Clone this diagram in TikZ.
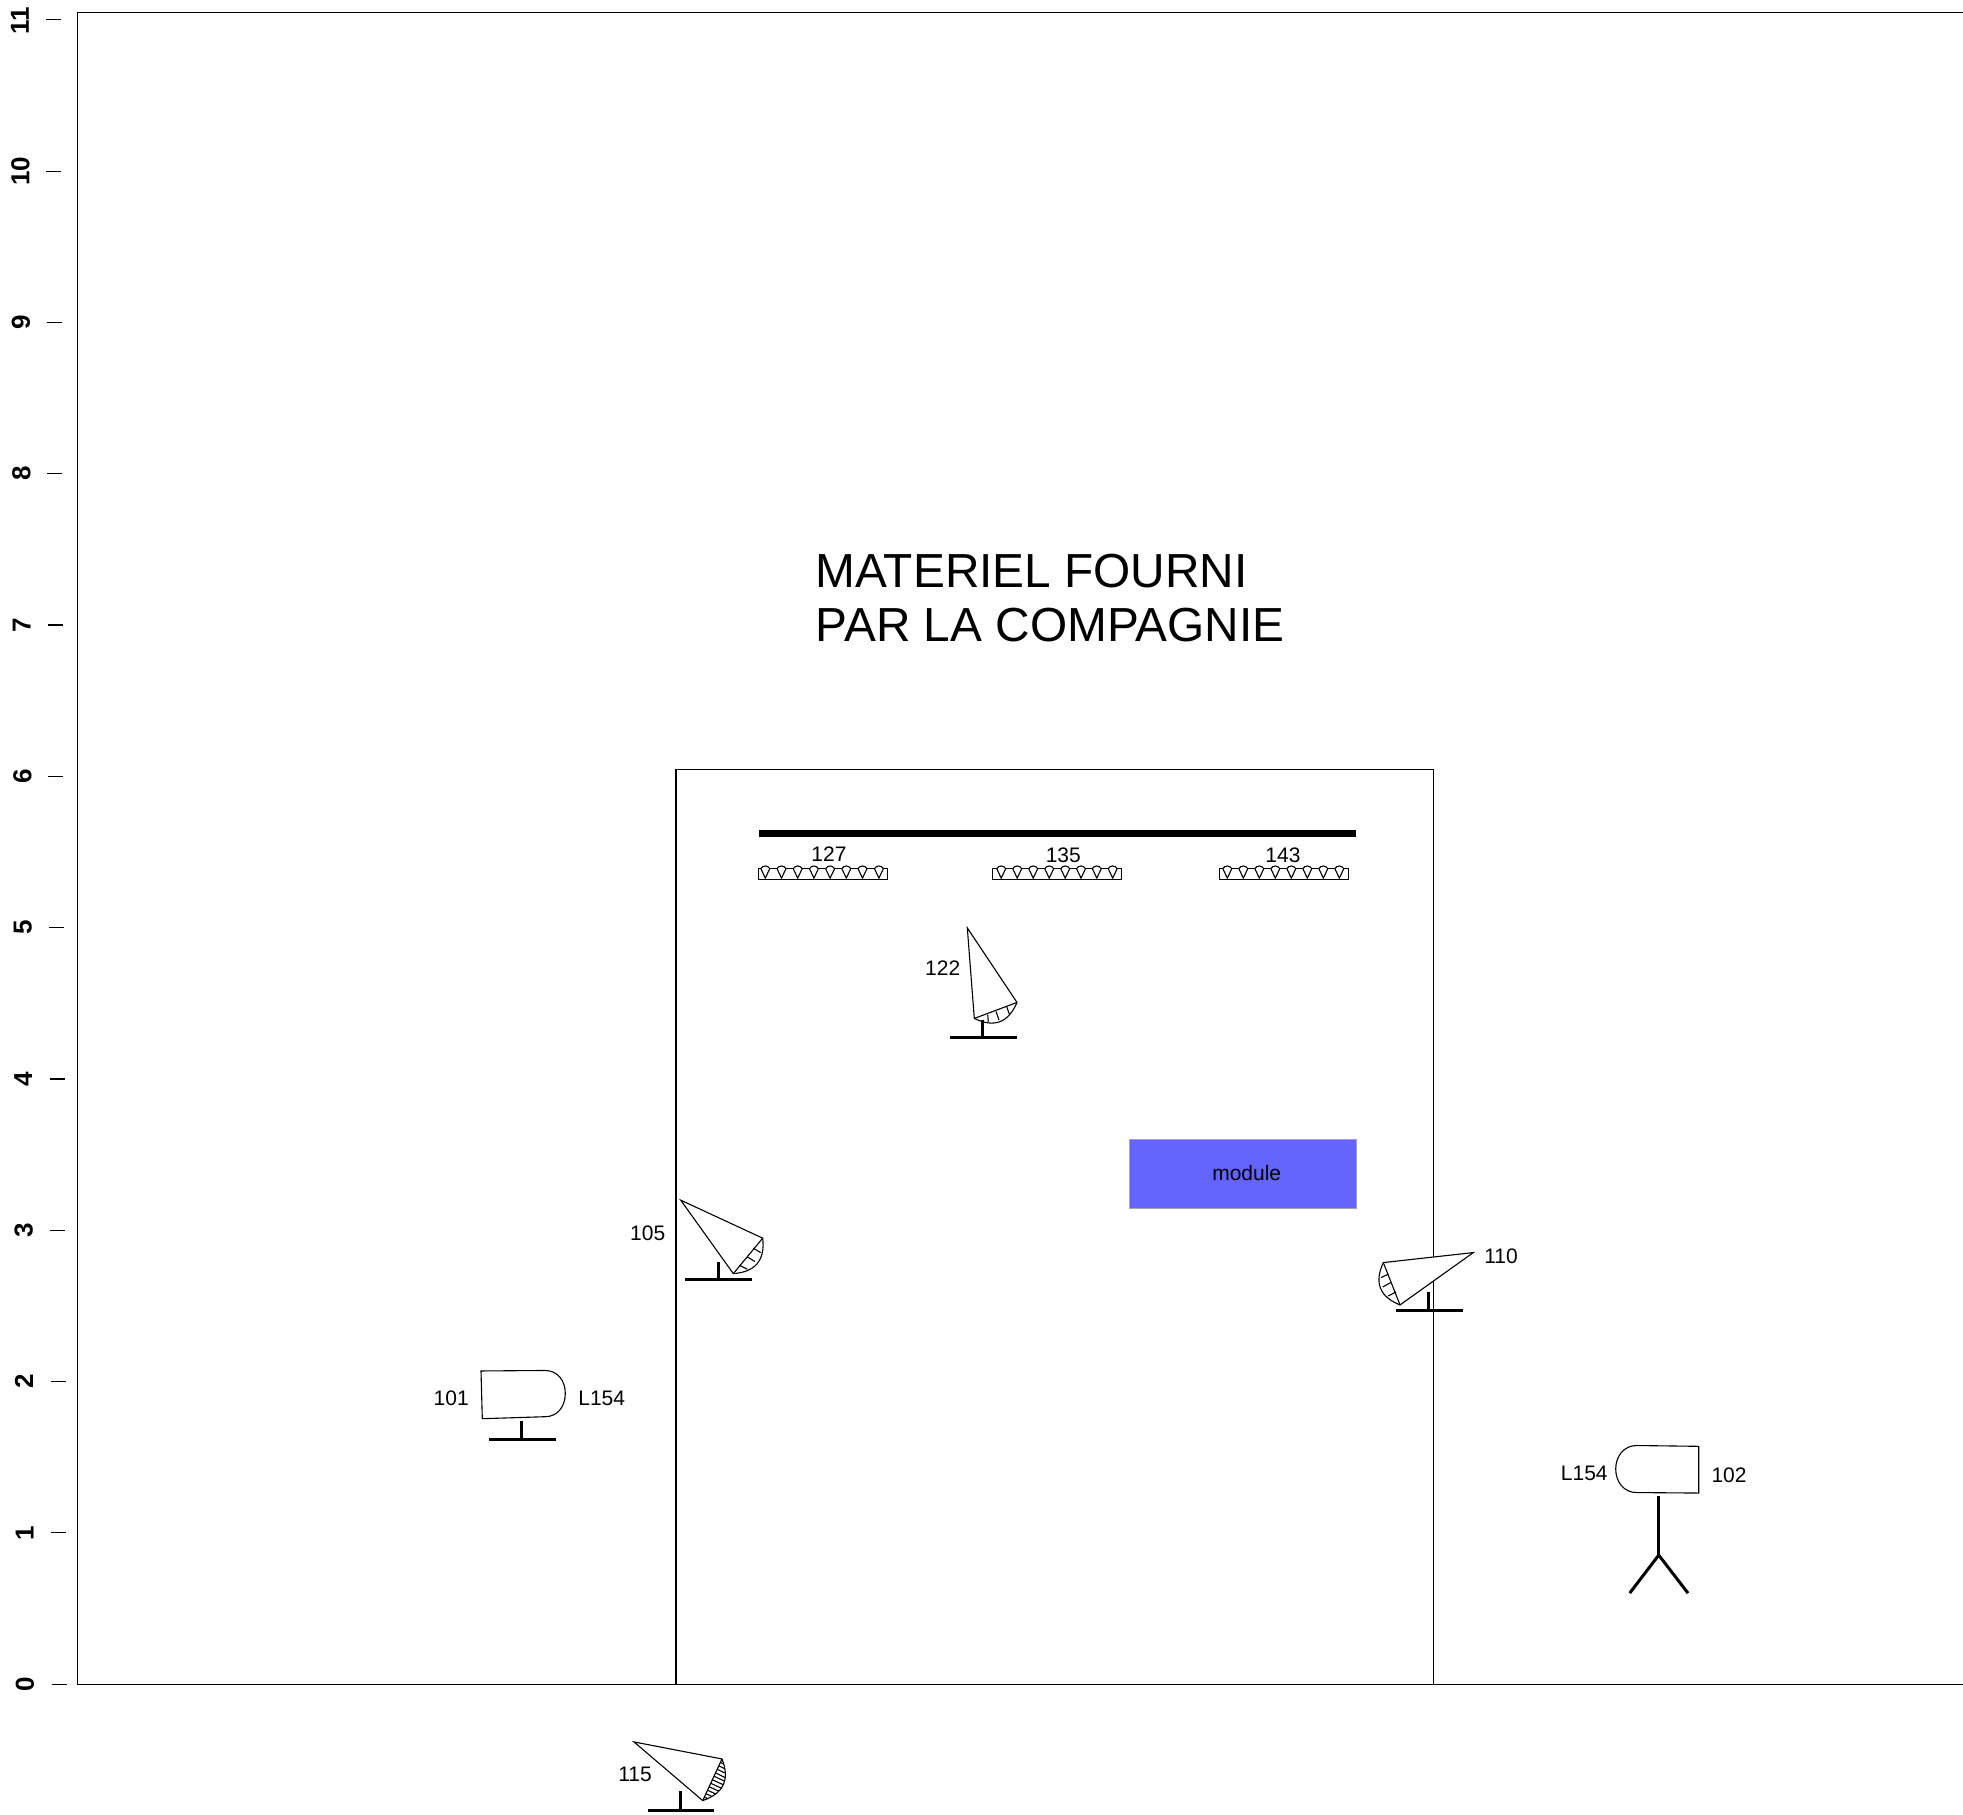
\documentclass[tikz,border=0pt]{standalone}
\usepackage{fontspec}
\setmainfont{Liberation Sans}
\newlength{\du}
\setlength{\du}{0.5pt}
\definecolor{dialinecolor}{rgb}{0.392157, 0.392157, 1.000000}
\tikzset{
  thinline/.style={line width=1.100000\du,black,line join=miter},
  lampbody/.style={thinline,fill=white},
  standline/.style={line width=3.000000\du,black},
  barline/.style={line width=7.000000\du,black},
  smalltext/.style={inner sep=0pt,font=\fontsize{10.5}{12}\selectfont},
  ticktext/.style={inner sep=0pt,rotate=90,font=\fontsize{13}{15}\selectfont\bfseries},
  bigtext/.style={inner sep=0pt,anchor=base west,font=\fontsize{23.9}{28}\selectfont},
}
\begin{document}
\begin{tikzpicture}
\pgftransformxscale{1.000000}
\pgftransformyscale{-1.000700}
\useasboundingbox (0.000000\du,0.000000\du) rectangle (1963.000000\du,1812.730000\du);
% frame
\draw[thinline] (1963.000000\du,12.500000\du)--(77.400000\du,12.500000\du)--(77.400000\du,1683.000000\du)--(1963.000000\du,1683.000000\du);
\draw[thinline] (676.000000\du,1683.000000\du)--(676.000000\du,769.000000\du)--(1433.500000\du,769.000000\du)--(1433.500000\du,1683.000000\du);
% ticks
\draw[thinline] (51.700000\du,1683.000000\du)--(66.700000\du,1683.000000\du);
\draw[thinline] (51.200000\du,1531.800000\du)--(66.200000\du,1531.800000\du);
\draw[thinline] (50.600000\du,1380.600000\du)--(65.600000\du,1380.600000\du);
\draw[thinline] (50.000000\du,1229.400000\du)--(65.000000\du,1229.400000\du);
\draw[thinline] (49.500000\du,1078.200000\du)--(64.500000\du,1078.200000\du);
\draw[thinline] (49.000000\du,927.000000\du)--(64.000000\du,927.000000\du);
\draw[thinline] (48.400000\du,775.800000\du)--(63.400000\du,775.800000\du);
\draw[thinline] (47.800000\du,624.600000\du)--(62.800000\du,624.600000\du);
\draw[thinline] (47.300000\du,473.400000\du)--(62.300000\du,473.400000\du);
\draw[thinline] (46.700000\du,322.200000\du)--(61.700000\du,322.200000\du);
\draw[thinline] (46.200000\du,171.000000\du)--(61.200000\du,171.000000\du);
\draw[thinline] (46.000000\du,19.800000\du)--(61.000000\du,19.800000\du);
\node[ticktext] (tick0) at (25.000000\du,1683.000000\du){0};
\node[ticktext] (tick1) at (24.600000\du,1531.800000\du){1};
\node[ticktext] (tick2) at (24.100000\du,1380.600000\du){2};
\node[ticktext] (tick3) at (23.600000\du,1229.400000\du){3};
\node[ticktext] (tick4) at (23.200000\du,1078.200000\du){4};
\node[ticktext] (tick5) at (22.800000\du,927.000000\du){5};
\node[ticktext] (tick6) at (22.300000\du,775.800000\du){6};
\node[ticktext] (tick7) at (21.800000\du,624.600000\du){7};
\node[ticktext] (tick8) at (21.400000\du,473.400000\du){8};
\node[ticktext] (tick9) at (20.900000\du,322.200000\du){9};
\node[ticktext] (tick10) at (20.500000\du,171.000000\du){10};
\node[ticktext] (tick11) at (20.000000\du,21.000000\du){11};
% title
\node[bigtext] (titleone) at (815.400000\du,586.700000\du){MATERIEL FOURNI};
\node[bigtext] (titletwo) at (815.400000\du,640.700000\du){PAR LA COMPAGNIE};
% bar
\draw[barline] (758.800000\du,832.500000\du)--(1356.300000\du,832.500000\du);
% strip 127
\node[smalltext] (strip127) at (829.000000\du,854.000000\du){127};
\draw[thinline] (758.400000\du,868.000000\du)--(758.400000\du,879.000000\du)--(887.800000\du,879.000000\du)--(887.800000\du,868.000000\du)--cycle;
\draw[lampbody] (760.800000\du,868.000000\du)--(765.300000\du,877.500000\du)--(769.800000\du,868.000000\du) .. controls (767.500000\du,864.500000\du) and (763.100000\du,864.500000\du) .. (760.800000\du,868.000000\du);
\draw[lampbody] (777.000000\du,868.000000\du)--(781.500000\du,877.500000\du)--(786.000000\du,868.000000\du) .. controls (783.700000\du,864.500000\du) and (779.300000\du,864.500000\du) .. (777.000000\du,868.000000\du);
\draw[lampbody] (793.200000\du,868.000000\du)--(797.700000\du,877.500000\du)--(802.200000\du,868.000000\du) .. controls (799.900000\du,864.500000\du) and (795.500000\du,864.500000\du) .. (793.200000\du,868.000000\du);
\draw[lampbody] (809.400000\du,868.000000\du)--(813.900000\du,877.500000\du)--(818.400000\du,868.000000\du) .. controls (816.100000\du,864.500000\du) and (811.700000\du,864.500000\du) .. (809.400000\du,868.000000\du);
\draw[lampbody] (825.600000\du,868.000000\du)--(830.100000\du,877.500000\du)--(834.600000\du,868.000000\du) .. controls (832.300000\du,864.500000\du) and (827.900000\du,864.500000\du) .. (825.600000\du,868.000000\du);
\draw[lampbody] (841.800000\du,868.000000\du)--(846.300000\du,877.500000\du)--(850.800000\du,868.000000\du) .. controls (848.500000\du,864.500000\du) and (844.100000\du,864.500000\du) .. (841.800000\du,868.000000\du);
\draw[lampbody] (858.000000\du,868.000000\du)--(862.500000\du,877.500000\du)--(867.000000\du,868.000000\du) .. controls (864.700000\du,864.500000\du) and (860.300000\du,864.500000\du) .. (858.000000\du,868.000000\du);
\draw[lampbody] (874.400000\du,868.000000\du)--(878.900000\du,877.500000\du)--(883.400000\du,868.000000\du) .. controls (881.100000\du,864.500000\du) and (876.700000\du,864.500000\du) .. (874.400000\du,868.000000\du);
% strip 135
\node[smalltext] (strip135) at (1063.300000\du,855.000000\du){135};
\draw[thinline] (992.200000\du,868.000000\du)--(992.200000\du,879.000000\du)--(1121.600000\du,879.000000\du)--(1121.600000\du,868.000000\du)--cycle;
\draw[lampbody] (996.700000\du,868.000000\du)--(1001.200000\du,877.500000\du)--(1005.700000\du,868.000000\du) .. controls (1003.400000\du,864.500000\du) and (999.000000\du,864.500000\du) .. (996.700000\du,868.000000\du);
\draw[lampbody] (1012.700000\du,868.000000\du)--(1017.200000\du,877.500000\du)--(1021.700000\du,868.000000\du) .. controls (1019.400000\du,864.500000\du) and (1015.000000\du,864.500000\du) .. (1012.700000\du,868.000000\du);
\draw[lampbody] (1028.700000\du,868.000000\du)--(1033.200000\du,877.500000\du)--(1037.700000\du,868.000000\du) .. controls (1035.400000\du,864.500000\du) and (1031.000000\du,864.500000\du) .. (1028.700000\du,868.000000\du);
\draw[lampbody] (1044.700000\du,868.000000\du)--(1049.200000\du,877.500000\du)--(1053.700000\du,868.000000\du) .. controls (1051.400000\du,864.500000\du) and (1047.000000\du,864.500000\du) .. (1044.700000\du,868.000000\du);
\draw[lampbody] (1060.700000\du,868.000000\du)--(1065.200000\du,877.500000\du)--(1069.700000\du,868.000000\du) .. controls (1067.400000\du,864.500000\du) and (1063.000000\du,864.500000\du) .. (1060.700000\du,868.000000\du);
\draw[lampbody] (1076.500000\du,868.000000\du)--(1081.000000\du,877.500000\du)--(1085.500000\du,868.000000\du) .. controls (1083.200000\du,864.500000\du) and (1078.800000\du,864.500000\du) .. (1076.500000\du,868.000000\du);
\draw[lampbody] (1092.300000\du,868.000000\du)--(1096.800000\du,877.500000\du)--(1101.300000\du,868.000000\du) .. controls (1099.000000\du,864.500000\du) and (1094.600000\du,864.500000\du) .. (1092.300000\du,868.000000\du);
\draw[lampbody] (1108.200000\du,868.000000\du)--(1112.700000\du,877.500000\du)--(1117.200000\du,868.000000\du) .. controls (1114.900000\du,864.500000\du) and (1110.500000\du,864.500000\du) .. (1108.200000\du,868.000000\du);
% strip 143
\node[smalltext] (strip143) at (1282.900000\du,855.000000\du){143};
\draw[thinline] (1219.600000\du,868.000000\du)--(1219.600000\du,879.000000\du)--(1348.600000\du,879.000000\du)--(1348.600000\du,868.000000\du)--cycle;
\draw[lampbody] (1222.800000\du,868.000000\du)--(1227.300000\du,877.500000\du)--(1231.800000\du,868.000000\du) .. controls (1229.500000\du,864.500000\du) and (1225.100000\du,864.500000\du) .. (1222.800000\du,868.000000\du);
\draw[lampbody] (1238.800000\du,868.000000\du)--(1243.300000\du,877.500000\du)--(1247.800000\du,868.000000\du) .. controls (1245.500000\du,864.500000\du) and (1241.100000\du,864.500000\du) .. (1238.800000\du,868.000000\du);
\draw[lampbody] (1254.800000\du,868.000000\du)--(1259.300000\du,877.500000\du)--(1263.800000\du,868.000000\du) .. controls (1261.500000\du,864.500000\du) and (1257.100000\du,864.500000\du) .. (1254.800000\du,868.000000\du);
\draw[lampbody] (1270.800000\du,868.000000\du)--(1275.300000\du,877.500000\du)--(1279.800000\du,868.000000\du) .. controls (1277.500000\du,864.500000\du) and (1273.100000\du,864.500000\du) .. (1270.800000\du,868.000000\du);
\draw[lampbody] (1286.800000\du,868.000000\du)--(1291.300000\du,877.500000\du)--(1295.800000\du,868.000000\du) .. controls (1293.500000\du,864.500000\du) and (1289.100000\du,864.500000\du) .. (1286.800000\du,868.000000\du);
\draw[lampbody] (1302.800000\du,868.000000\du)--(1307.300000\du,877.500000\du)--(1311.800000\du,868.000000\du) .. controls (1309.500000\du,864.500000\du) and (1305.100000\du,864.500000\du) .. (1302.800000\du,868.000000\du);
\draw[lampbody] (1318.800000\du,868.000000\du)--(1323.300000\du,877.500000\du)--(1327.800000\du,868.000000\du) .. controls (1325.500000\du,864.500000\du) and (1321.100000\du,864.500000\du) .. (1318.800000\du,868.000000\du);
\draw[lampbody] (1334.800000\du,868.000000\du)--(1339.300000\du,877.500000\du)--(1343.800000\du,868.000000\du) .. controls (1341.500000\du,864.500000\du) and (1337.100000\du,864.500000\du) .. (1334.800000\du,868.000000\du);
% module
\node[draw=black!35,line width=1.000000\du,fill=dialinecolor,minimum width=227.700000\du,minimum height=68.300000\du,inner sep=0pt] (module) at (1242.850000\du,1173.150000\du){};
\node[smalltext] (modulelabel) at (1246.700000\du,1171.700000\du){module};
% spot 122
\draw[lampbody] (967.300000\du,927.300000\du)--(1017.000000\du,1001.700000\du) .. controls (1008.400000\du,1022.000000\du) and (994.100000\du,1027.400000\du) .. (974.300000\du,1017.700000\du)--cycle;
\draw[thinline] (974.300000\du,1017.700000\du)--(1017.000000\du,1001.700000\du);
\draw[thinline] (987.700000\du,1014.000000\du)--(988.300000\du,1021.000000\du);
\draw[thinline] (996.000000\du,1010.700000\du)--(999.000000\du,1019.300000\du);
\draw[thinline] (1006.700000\du,1006.000000\du)--(1009.300000\du,1013.300000\du);
\draw[standline] (982.300000\du,1019.000000\du)--(982.300000\du,1037.000000\du);
\draw[standline] (950.000000\du,1037.000000\du)--(1017.000000\du,1037.000000\du);
\node[smalltext] (spot122) at (942.700000\du,967.700000\du){122};
% spot 105
\draw[lampbody] (680.700000\du,1199.300000\du)--(762.700000\du,1237.300000\du) .. controls (765.200000\du,1259.300000\du) and (755.400000\du,1271.100000\du) .. (733.300000\du,1272.700000\du)--cycle;
\draw[thinline] (733.300000\du,1272.700000\du)--(762.700000\du,1237.300000\du);
\draw[thinline] (739.300000\du,1264.300000\du)--(747.300000\du,1268.300000\du);
\draw[thinline] (747.300000\du,1256.000000\du)--(755.000000\du,1260.700000\du);
\draw[thinline] (753.300000\du,1247.300000\du)--(760.700000\du,1251.700000\du);
\draw[standline] (718.300000\du,1260.700000\du)--(718.300000\du,1279.000000\du);
\draw[standline] (685.000000\du,1279.000000\du)--(752.000000\du,1279.000000\du);
\node[smalltext] (spot105) at (647.700000\du,1232.000000\du){105};
% spot 110
\draw[lampbody] (1473.300000\du,1251.700000\du)--(1383.300000\du,1261.700000\du) .. controls (1374.000000\du,1281.700000\du) and (1379.500000\du,1295.800000\du) .. (1400.000000\du,1304.000000\du)--cycle;
\draw[thinline] (1383.300000\du,1261.700000\du)--(1400.000000\du,1304.000000\du);
\draw[thinline] (1381.000000\du,1276.700000\du)--(1388.300000\du,1273.300000\du);
\draw[thinline] (1382.700000\du,1286.000000\du)--(1390.700000\du,1281.700000\du);
\draw[thinline] (1388.300000\du,1295.000000\du)--(1396.000000\du,1291.000000\du);
\draw[standline] (1428.300000\du,1291.000000\du)--(1428.300000\du,1310.000000\du);
\draw[standline] (1396.000000\du,1310.000000\du)--(1462.700000\du,1310.000000\du);
\node[smalltext] (spot110) at (1501.000000\du,1255.000000\du){110};
% spot 115
\draw[lampbody] (634.000000\du,1740.700000\du)--(722.000000\du,1757.700000\du) .. controls (730.100000\du,1778.300000\du) and (723.600000\du,1792.100000\du) .. (702.700000\du,1799.300000\du)--cycle;
\draw[thinline] (702.700000\du,1799.300000\du)--(722.000000\du,1757.700000\du);
\draw[thinline] (704.300000\du,1795.800000\du)--(707.600000\du,1797.300000\du);
\draw[thinline] (705.900000\du,1792.400000\du)--(711.900000\du,1795.200000\du);
\draw[thinline] (707.500000\du,1788.900000\du)--(715.700000\du,1792.700000\du);
\draw[thinline] (709.100000\du,1785.400000\du)--(718.800000\du,1789.900000\du);
\draw[thinline] (710.700000\du,1782.000000\du)--(721.300000\du,1786.900000\du);
\draw[thinline] (712.400000\du,1778.500000\du)--(723.300000\du,1783.500000\du);
\draw[thinline] (714.000000\du,1775.000000\du)--(724.600000\du,1779.900000\du);
\draw[thinline] (715.600000\du,1771.600000\du)--(725.300000\du,1776.500000\du);
\draw[thinline] (717.200000\du,1768.100000\du)--(725.400000\du,1771.900000\du);
\draw[thinline] (718.800000\du,1764.600000\du)--(724.800000\du,1767.400000\du);
\draw[thinline] (720.400000\du,1761.200000\du)--(723.700000\du,1762.700000\du);
\draw[standline] (680.300000\du,1790.000000\du)--(680.300000\du,1809.300000\du);
\draw[standline] (648.000000\du,1809.300000\du)--(714.000000\du,1809.300000\du);
\node[smalltext] (spot115) at (635.000000\du,1773.000000\du){115};
% lamp 101
\draw[lampbody] (481.000000\du,1370.000000\du)--(545.000000\du,1369.500000\du) .. controls (558.000000\du,1369.500000\du) and (565.300000\du,1380.000000\du) .. (565.300000\du,1392.500000\du) .. controls (565.300000\du,1405.000000\du) and (558.000000\du,1415.700000\du) .. (545.000000\du,1415.700000\du)--(482.300000\du,1417.700000\du)--cycle;
\draw[standline] (521.300000\du,1420.000000\du)--(521.300000\du,1438.300000\du);
\draw[standline] (489.000000\du,1438.300000\du)--(556.000000\du,1438.300000\du);
\node[smalltext] (lamp101) at (451.200000\du,1397.700000\du){101};
\node[smalltext] (gel101) at (601.700000\du,1397.300000\du){L154};
% lamp 102
\draw[lampbody] (1698.700000\du,1445.300000\du)--(1636.700000\du,1444.500000\du) .. controls (1624.000000\du,1444.500000\du) and (1615.700000\du,1455.000000\du) .. (1615.700000\du,1468.000000\du) .. controls (1615.700000\du,1481.000000\du) and (1624.000000\du,1491.500000\du) .. (1636.700000\du,1491.500000\du)--(1698.700000\du,1492.000000\du)--cycle;
\draw[standline] (1658.700000\du,1495.000000\du)--(1658.700000\du,1554.000000\du);
\draw[standline,line join=miter] (1629.700000\du,1592.000000\du)--(1658.700000\du,1554.000000\du)--(1688.000000\du,1592.000000\du);
\node[smalltext] (lamp102) at (1729.000000\du,1474.000000\du){102};
\node[smalltext] (gel102) at (1584.300000\du,1472.000000\du){L154};
\end{tikzpicture}
\end{document}
